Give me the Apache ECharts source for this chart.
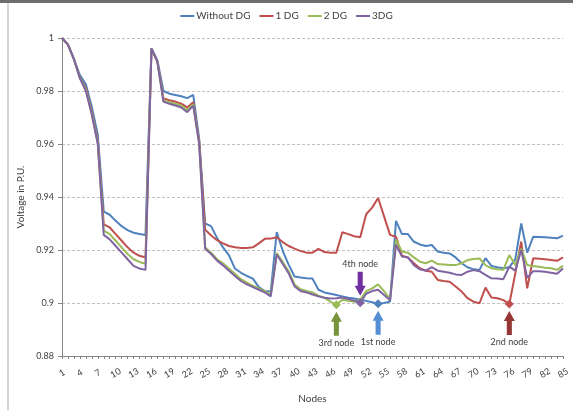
<!DOCTYPE html>
<html>
<head>
<meta charset="utf-8">
<script src="https://cdn.jsdelivr.net/npm/echarts@6/dist/echarts.min.js"></script>
<style>
html,body{margin:0;padding:0;background:#fff;}
#chart{width:573px;height:410px;}
</style>
</head>
<body>
<div id="chart"></div>
<script>
// ---- data ----
var nodes = [];
for (var i = 1; i <= 85; i++) nodes.push(String(i));

var seriesNames = ['Without DG', '1 DG', '2 DG', '3DG'];
var seriesColors = ['#4F81BD', '#C0504D', '#9BBB59', '#8064A2'];

var withoutDG = [
  1.0, 0.9975, 0.992, 0.986, 0.9825, 0.974, 0.9635, 0.9345, 0.9333, 0.931,
  0.929, 0.9275, 0.9265, 0.926, 0.9257, 0.9962, 0.9915, 0.980, 0.979, 0.9785,
  0.978, 0.9773, 0.9785, 0.962, 0.930, 0.929, 0.9245, 0.921, 0.918, 0.913,
  0.9114, 0.9102, 0.9092, 0.906, 0.9045, 0.9043, 0.9268, 0.9197, 0.9145, 0.910,
  0.9096, 0.9093, 0.9092, 0.905, 0.904, 0.9035, 0.903, 0.9025, 0.902, 0.9017,
  0.9012, 0.9008, 0.9003, 0.8997, 0.9, 0.9006, 0.931, 0.926, 0.926, 0.9231,
  0.9221, 0.9215, 0.9219, 0.9194, 0.919, 0.9187, 0.9172, 0.915, 0.9135, 0.9127,
  0.9125, 0.9169, 0.914, 0.9135, 0.9131, 0.9135, 0.9165, 0.930, 0.919, 0.925,
  0.9249, 0.9248, 0.9246, 0.9244, 0.9254
];
var oneDG = [
  1.0, 0.9975, 0.992, 0.985, 0.981, 0.972, 0.961, 0.9297, 0.9285, 0.926,
  0.9235, 0.921, 0.919, 0.9178, 0.9172, 0.996, 0.991, 0.9772, 0.9765, 0.976,
  0.9752, 0.9738, 0.9758, 0.961, 0.9277, 0.9255, 0.9237, 0.9225, 0.9215, 0.921,
  0.9208, 0.9208, 0.921, 0.9225, 0.9242, 0.9243, 0.9248, 0.923, 0.9215, 0.9205,
  0.9196, 0.919, 0.919, 0.9204, 0.9192, 0.919, 0.919, 0.9267, 0.926, 0.9252,
  0.9248, 0.9335, 0.936, 0.9396, 0.9327, 0.9257, 0.925, 0.9178, 0.9172, 0.915,
  0.9131, 0.9122, 0.9118, 0.9087, 0.9083, 0.908, 0.9062, 0.9043, 0.9018, 0.9005,
  0.8999, 0.9058, 0.9021, 0.9018, 0.9011, 0.8996, 0.9112, 0.9232, 0.9055, 0.9169,
  0.9167, 0.9165, 0.9162, 0.9159, 0.9172
];
var twoDG = [
  1.0, 0.9975, 0.992, 0.985, 0.9805, 0.9715, 0.9605, 0.9273, 0.926, 0.9235,
  0.921, 0.9185, 0.9165, 0.9155, 0.9148, 0.996, 0.991, 0.9765, 0.9758, 0.9752,
  0.9745, 0.9728, 0.975, 0.9605, 0.921, 0.919, 0.9165, 0.915, 0.913, 0.911,
  0.909, 0.9077, 0.9065, 0.9055, 0.9045, 0.9032, 0.9188, 0.9155, 0.912, 0.907,
  0.9052, 0.9045, 0.904, 0.9028, 0.902, 0.9005, 0.8993, 0.9012, 0.9008, 0.9005,
  0.9012, 0.9045, 0.9055, 0.907, 0.9045, 0.9015, 0.9238, 0.9194, 0.919, 0.9172,
  0.9156, 0.915, 0.916, 0.9147, 0.9145, 0.9143, 0.9143, 0.915, 0.9162, 0.9166,
  0.9168, 0.9143, 0.9131, 0.9127, 0.9125, 0.9181, 0.9143, 0.9205, 0.9143, 0.914,
  0.9137, 0.9133, 0.9131, 0.9125, 0.914
];
var threeDG = [
  1.0, 0.9975, 0.992, 0.9848, 0.980, 0.971, 0.960, 0.9257, 0.924, 0.9215,
  0.919, 0.9165, 0.914, 0.913, 0.9125, 0.996, 0.991, 0.976, 0.9752, 0.9745,
  0.9738, 0.972, 0.9745, 0.960, 0.9205, 0.9185, 0.916, 0.9142, 0.9122, 0.9102,
  0.9083, 0.907, 0.906, 0.905, 0.904, 0.9025, 0.9183, 0.9148, 0.9112, 0.9062,
  0.9045, 0.904, 0.9032, 0.9025, 0.902, 0.9017, 0.9018, 0.9021, 0.9015, 0.9009,
  0.9001, 0.9035, 0.9045, 0.905, 0.903, 0.901, 0.922, 0.9175, 0.9172, 0.9143,
  0.9127, 0.9122, 0.9135, 0.9122, 0.9118, 0.9114, 0.9108, 0.9106, 0.9118, 0.9124,
  0.912, 0.9106, 0.9093, 0.9092, 0.909, 0.9137, 0.9122, 0.920, 0.9095, 0.912,
  0.912, 0.9118, 0.9114, 0.911, 0.913
];

// optimal DG placement markers: node per series, label, arrow direction
var markerNodes = ['54', '76', '47', '51'];
var markerLabels = ['1st node', '2nd node', '3rd node', '4th node'];
var markerUp = [true, true, true, false];
var arrowColors = ['#558ED5', '#953735', '#77933C', '#7030A0'];

var yTicks = ['0.88', '0.9', '0.92', '0.94', '0.96', '0.98', '1'];

// ---- chart ----
var allData = [withoutDG, oneDG, twoDG, threeDG];
var upArrow = 'path://M5,0 L10,10 L7.3,10 L7.3,24 L2.7,24 L2.7,10 L0,10 Z';
var downArrow = 'path://M2.7,0 L7.3,0 L7.3,14 L10,14 L5,24 L0,14 L2.7,14 Z';
var FONT = 'Lato, "Open Sans", sans-serif';

var series = seriesNames.map(function (name, k) {
  var node = markerNodes[k];
  var val = allData[k][nodes.indexOf(node)];
  return {
    name: name,
    type: 'line',
    data: allData[k],
    symbol: 'none',
    smooth: false,
    z: 2 + k,
    lineStyle: { width: 2, color: seriesColors[k] },
    itemStyle: { color: seriesColors[k] },
    markPoint: {
      silent: true,
      animation: false,
      data: [
        {
          coord: [node, val],
          symbol: 'diamond',
          symbolSize: 9,
          itemStyle: { color: seriesColors[k] },
          label: { show: false }
        },
        {
          coord: [node, val],
          symbol: markerUp[k] ? upArrow : downArrow,
          symbolSize: [11, 24],
          symbolKeepAspect: false,
          symbolOffset: [0, markerUp[k] ? 19 : -19],
          itemStyle: { color: arrowColors[k] },
          label: {
            show: true,
            formatter: markerLabels[k],
            position: markerUp[k] ? 'bottom' : 'top',
            distance: 3,
            fontSize: 9,
            fontFamily: FONT,
            color: '#404040'
          }
        }
      ]
    }
  };
});

var chart = echarts.init(document.getElementById('chart'), null, { renderer: 'canvas' });
chart.setOption({
  animation: false,
  backgroundColor: '#fff',
  textStyle: { fontFamily: FONT },
  graphic: [
    { type: 'rect', shape: { x: 0, y: 0, width: 573, height: 3 }, style: { fill: '#6e6e6e' }, silent: true },
    { type: 'line', shape: { x1: 8, y1: 3, x2: 8, y2: 410 }, style: { stroke: '#d4d4d4', lineWidth: 2 }, silent: true }
  ],
  legend: {
    top: 6,
    left: 'center',
    icon: 'rect',
    itemWidth: 14,
    itemHeight: 2,
    itemGap: 9,
    textStyle: { fontSize: 10, color: '#404040', fontFamily: FONT, padding: [0, 0, 0, -3] },
    data: seriesNames
  },
  grid: { left: 62, right: 10, top: 38, bottom: 54, containLabel: false },
  xAxis: {
    type: 'category',
    data: nodes,
    boundaryGap: false,
    name: 'Nodes',
    nameLocation: 'middle',
    nameGap: 38,
    nameTextStyle: { fontSize: 10, color: '#404040', fontFamily: FONT },
    axisLine: { lineStyle: { color: '#868686', width: 1 } },
    axisTick: { show: true, interval: 0, length: 3, lineStyle: { color: '#868686' } },
    axisLabel: {
      interval: 2,
      rotate: 30,
      align: 'center',
      verticalAlign: 'middle',
      margin: 17,
      fontSize: 9,
      color: '#404040',
      fontFamily: FONT
    },
    splitLine: { show: false }
  },
  yAxis: {
    type: 'value',
    min: 0.88,
    max: 1,
    interval: 0.02,
    name: 'Voltage in P.U.',
    nameLocation: 'middle',
    nameGap: 35,
    nameRotate: 90,
    nameTextStyle: { fontSize: 10, color: '#404040', fontFamily: FONT },
    axisLine: { show: true, lineStyle: { color: '#868686', width: 1 } },
    axisTick: { show: true, length: 4, lineStyle: { color: '#868686' } },
    axisLabel: {
      fontSize: 9,
      color: '#404040',
      fontFamily: FONT,
      margin: 8,
      formatter: function (v) {
        var s = String(+v.toFixed(2));
        return yTicks.indexOf(s) >= 0 ? s : '';
      }
    },
    splitLine: { show: true, lineStyle: { color: '#c0c0c0', type: [3, 2], width: 1 } }
  },
  series: series
});
</script>
</body>
</html>
